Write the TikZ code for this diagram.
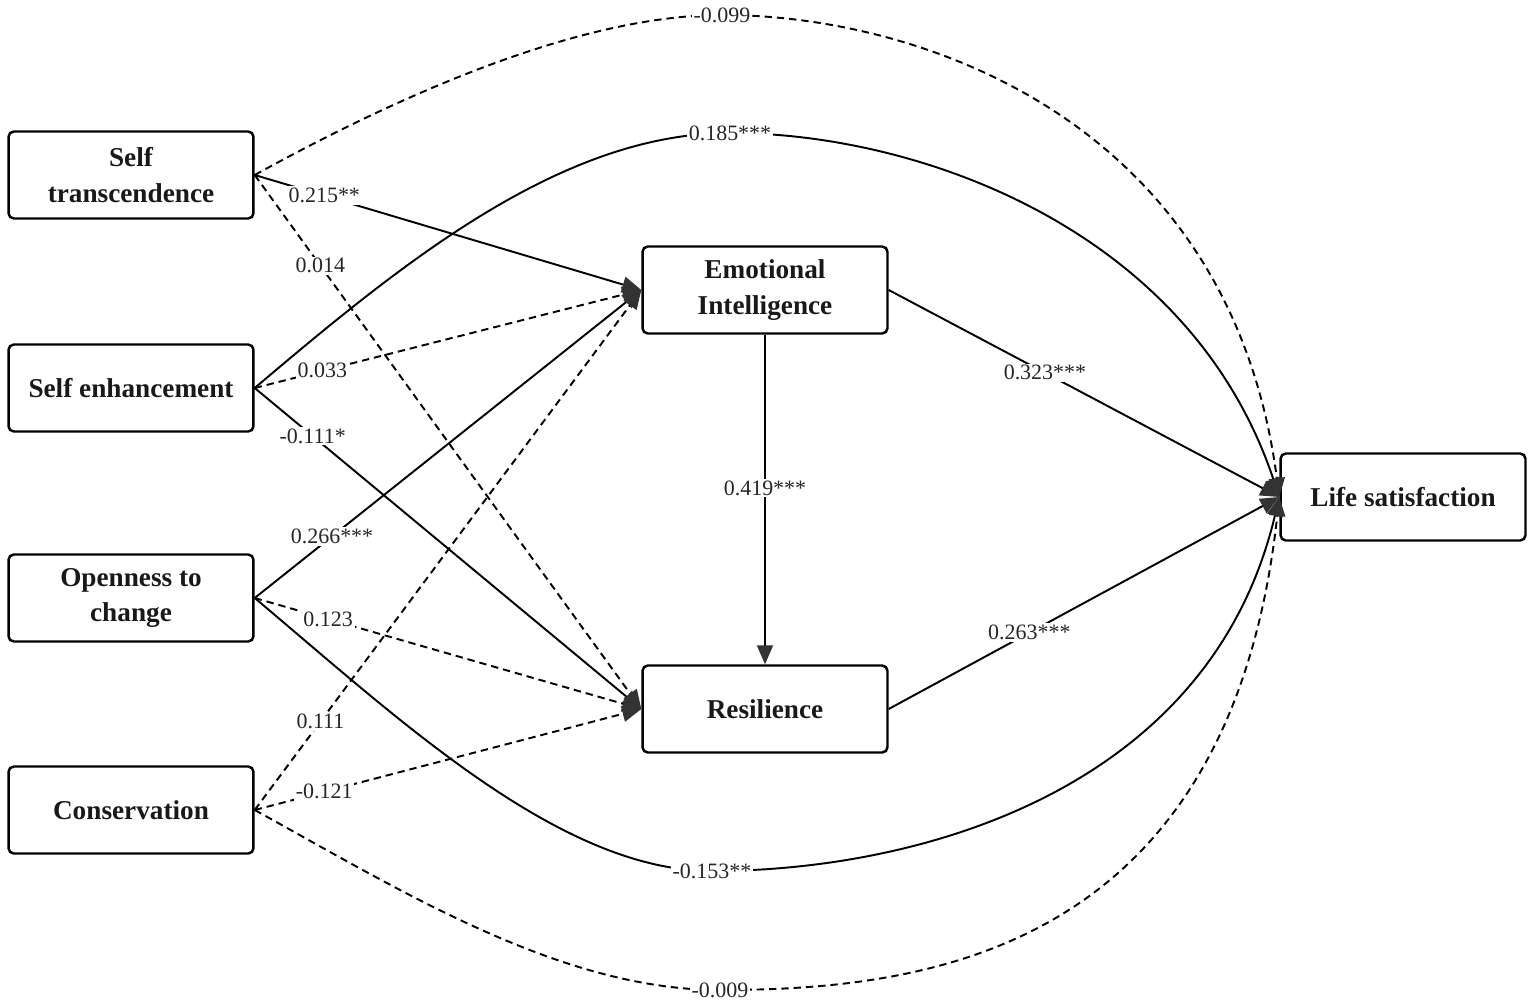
\documentclass[tikz,border=0pt]{standalone}
\usepackage{fontspec}
\setmainfont{Liberation Serif}
\usetikzlibrary{arrows.meta}
\definecolor{headgray}{HTML}{333333}
\tikzset{
  vbox/.style={draw, line width=1.4pt, rounded corners=3pt, minimum width=4.9cm, minimum height=1.74cm,
    align=center, font=\fontsize{15.5}{20}\selectfont\bfseries, text=black!90},
  lbl/.style={fill=white, inner sep=1pt, font=\fontsize{12.5}{14}\selectfont, text=black!85},
  effect/.style={line width=1.1pt, -{Triangle[length=0.38cm,width=0.32cm,color=headgray]}},
  weak/.style={effect, dash pattern=on 4.2pt off 2.8pt},
}
\begin{document}
\begin{tikzpicture}[x=0.02cm, y=-0.02cm]
  \useasboundingbox (0,0) rectangle (1535,1007);

  % values
  \node[vbox] (st) at (131,175) {Self\\transcendence};
  \node[vbox] (se) at (131,388) {Self enhancement};
  \node[vbox] (oc) at (131,598) {Openness to\\change};
  \node[vbox] (cons) at (131,810) {Conservation};

  % mediators and outcome
  \node[vbox] (ei) at (765,290) {Emotional\\Intelligence};
  \node[vbox] (res) at (765,709) {Resilience};
  \node[vbox] (ls) at (1403,497) {Life satisfaction};

  % outer curves
  \draw[weak] (st.east) .. controls (400,95) and (580,15) .. (722,15) node[lbl] {-0.099}
    .. controls (920,15) and (1230,120) .. (ls.west);
  \draw[effect] (se.east) .. controls (400,265) and (560,133) .. (730,133) node[lbl] {0.185***}
    .. controls (920,133) and (1190,230) .. (ls.west);
  \draw[effect] (oc.east) .. controls (400,720) and (560,871) .. (712,871) node[lbl] {-0.153**}
    .. controls (920,871) and (1210,790) .. (ls.west);
  \draw[weak] (cons.east) .. controls (400,890) and (560,990) .. (720,990) node[lbl] {-0.009}
    .. controls (930,990) and (1230,950) .. (ls.west);

  % paths to the mediators
  \draw[effect] (st.east) -- node[lbl, pos=0.18] {0.215**} (ei.west);
  \draw[weak] (st.east) -- node[lbl, pos=0.17] {0.014} (res.west);
  \draw[weak] (se.east) -- node[lbl, pos=0.175] {0.033} (ei.west);
  \draw[effect] (se.east) -- node[lbl, pos=0.15] {-0.111*} (res.west);
  \draw[effect] (oc.east) -- node[lbl, pos=0.2] {0.266***} (ei.west);
  \draw[weak] (oc.east) -- node[lbl, pos=0.19] {0.123} (res.west);
  \draw[weak] (cons.east) -- node[lbl, pos=0.17] {0.111} (ei.west);
  \draw[weak] (cons.east) -- node[lbl, pos=0.18] {-0.121} (res.west);

  % mediators to outcome
  \draw[effect] (ei.south) -- node[lbl, pos=0.465] {0.419***} (res.north);
  \draw[effect] (ei.east) -- node[lbl, pos=0.4] {0.323***} (ls.west);
  \draw[effect] (res.east) -- node[lbl, pos=0.36] {0.263***} (ls.west);
\end{tikzpicture}
\end{document}
